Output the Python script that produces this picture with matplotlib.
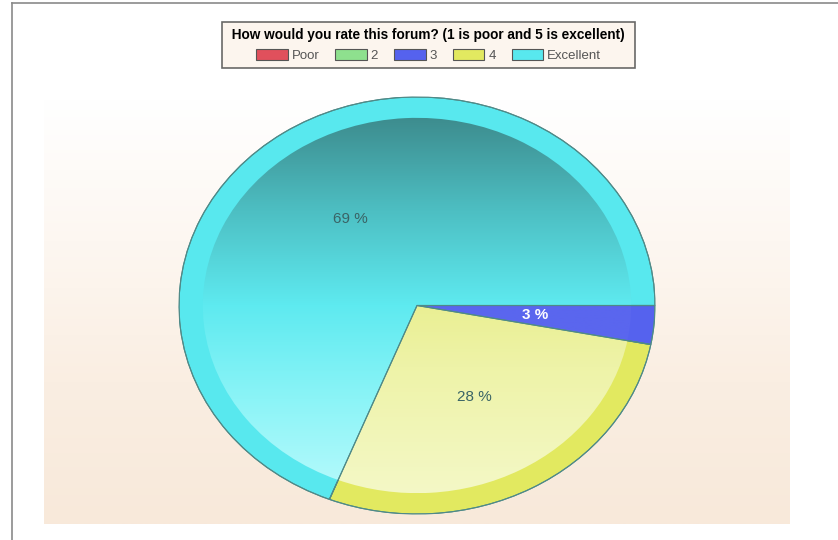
import numpy as np
import matplotlib
matplotlib.use("Agg")
import matplotlib.pyplot as plt
from matplotlib.patches import Wedge, Patch
from matplotlib.colors import LinearSegmentedColormap

categories = ["Poor", "2", "3", "4", "Excellent"]
values = [0, 0, 3, 28, 69]
colors = ["#E0505C", "#8EE08E", "#5562EE", "#E2E960", "#58E8EE"]
title = "How would you rate this forum? (1 is poor and 5 is excellent)"

W, H = 838, 540
fig = plt.figure(figsize=(W / 100, H / 100), dpi=100)
fig.patch.set_facecolor("white")

def fx(px):
    return px / W

def fy(py):
    return 1 - py / H

# outer frame
fig.add_artist(plt.Line2D([fx(12), fx(12)], [fy(3), 0], color="#8a8a8a", lw=1.2))
fig.add_artist(plt.Line2D([fx(12), 1], [fy(3), fy(3)], color="#8a8a8a", lw=1.2))

# background panel gradient
bg = fig.add_axes([fx(44), fy(524), fx(789) - fx(44), fy(100) - fy(524)])
bg.axis("off")
bgcmap = LinearSegmentedColormap.from_list("bg", ["#FFFFFF", "#FDF7F1", "#FAEEE2", "#F8E9DA"])
bg.imshow(np.linspace(0, 1, 256).reshape(-1, 1), aspect="auto", cmap=bgcmap,
          extent=[0, 1, 0, 1], origin="upper")
bg.set_xlim(0, 1)
bg.set_ylim(0, 1)

# pie axes (elliptical)
ax = fig.add_axes([fx(179), fy(514), fx(655) - fx(179), fy(97) - fy(514)])
ax.axis("off")

def fmt(p):
    return "%d %%" % round(p) if p > 0.5 else ""

wedges, texts, autotexts = ax.pie(
    values, colors=colors, startangle=0, counterclock=False, radius=1.0,
    autopct=fmt, pctdistance=0.5,
    wedgeprops=dict(edgecolor="#4f8a88", linewidth=0.8),
    textprops=dict(fontsize=11, family=["Liberation Sans", "DejaVu Sans"]),
)

grad_maps = {
    "Excellent": ["#3D8C8E", "#4DBFC3", "#5EEAF0", "#8BF4F7", "#B6FAFC"],
    "4": ["#E1E862", "#E6EC7E", "#EEF3A8", "#F4F8C6"],
    "3": ["#5A66EE", "#5A66EE"],
}
inner_r = 0.9
for cat, w in zip(categories, wedges):
    if cat not in grad_maps or w.theta2 - w.theta1 <= 0:
        continue
    cmap = LinearSegmentedColormap.from_list("g" + cat, grad_maps[cat])
    im = ax.imshow(np.linspace(0, 1, 256).reshape(-1, 1), aspect="auto", cmap=cmap,
                   extent=[-1, 1, -inner_r, inner_r], origin="upper", zorder=2)
    clip = Wedge((0, 0), inner_r, w.theta1, w.theta2, transform=ax.transData)
    im.set_clip_path(clip)
    edge = Wedge((0, 0), 1.0, w.theta1, w.theta2, facecolor="none",
                 edgecolor="#4f8a88", linewidth=0.8, zorder=3)
    ax.add_patch(edge)
ax.set_xlim(-1.0, 1.0)
ax.set_ylim(-1.0, 1.0)
ax.set_aspect("auto")

for cat, t in zip(categories, autotexts):
    t.set_zorder(5)
    if cat == "3":
        t.set_color("white")
        t.set_fontweight("bold")
    else:
        t.set_color("#3a6466")

# legend
handles = [Patch(facecolor=c, edgecolor="#555555", linewidth=0.8) for c in colors]
leg = fig.legend(handles, categories, loc="upper center",
                 bbox_to_anchor=(fx(428.5), fy(15)), ncol=5,
                 title=" " + title + " ", frameon=True, fancybox=False,
                 prop=dict(family=["Liberation Sans", "DejaVu Sans"], size=9.5),
                 handlelength=2.4, handleheight=0.9, handletextpad=0.3,
                 columnspacing=1.2, borderpad=0.45, labelspacing=0.55)
leg.get_title().set_fontproperties(dict(family=["Liberation Sans", "DejaVu Sans"],
                                        weight="bold", size=9.8))
for t in leg.get_texts():
    t.set_color("#555555")
frame = leg.get_frame()
frame.set_facecolor("#FCF3EA")
frame.set_edgecolor("#444444")
frame.set_linewidth(1.2)

fig.savefig("out.png", dpi=100)
